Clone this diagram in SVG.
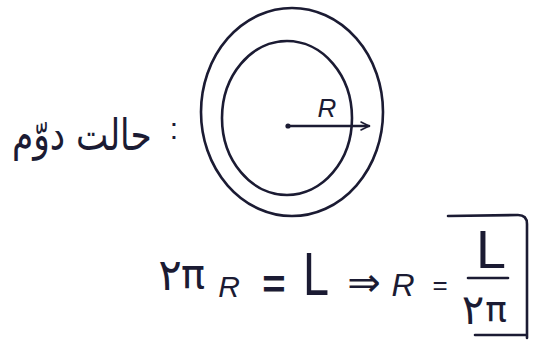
<svg xmlns="http://www.w3.org/2000/svg" width="536" height="342" viewBox="0 0 536 342">
<defs>
<style>
.ink{fill:none;stroke:#1b1b33;stroke-width:2.6;stroke-linecap:round;stroke-linejoin:round}
.t{fill:#1b1b33;font-family:"DejaVu Sans","Liberation Sans",sans-serif}
.l{fill:#1b1b33;font-family:"Liberation Sans",sans-serif}
.r{fill:#1b1b33;font-family:"Liberation Sans",sans-serif;font-style:italic}
</style>
<marker id="chev" viewBox="0 0 10 10" refX="9" refY="5" markerWidth="10" markerHeight="10" markerUnits="userSpaceOnUse" orient="auto">
<path d="M1,1 L9,5 L1,9" fill="none" stroke="#1b1b33" stroke-width="1.6" stroke-linecap="round"/>
</marker>
</defs>
<rect width="536" height="342" fill="#ffffff"/>
<g id="label">
<text class="t" transform="scale(0.78,1)" x="105" y="150" font-size="44" text-anchor="middle" direction="rtl">حالت دوّم</text>
<text class="l" x="174" y="139" font-size="30" text-anchor="middle">:</text>
</g>
<g id="outer-circle">
<ellipse class="ink" cx="292" cy="112" rx="91" ry="104"/>
</g>
<g id="inner-circle">
<ellipse class="ink" cx="287" cy="118" rx="65" ry="77"/>
</g>
<g id="center">
<circle cx="288" cy="126" r="2.6" fill="#1b1b33"/>
<text class="r" x="327" y="117" font-size="26" text-anchor="middle">R</text>
</g>
<g id="connectors">
<line class="ink" x1="288" y1="126" x2="369" y2="126" stroke-width="2" marker-end="url(#chev)"/>
</g>
<g id="formula">
<text class="t" x="170" y="290" font-size="44" text-anchor="middle">۲</text>
<text class="t" x="193" y="288" font-size="40" text-anchor="middle">π</text>
<text class="r" x="229" y="297" font-size="30" text-anchor="middle">R</text>
<text class="l" x="274" y="298" font-size="40" font-weight="bold" text-anchor="middle">=</text>
<text class="l" x="303" y="295" font-size="62" textLength="26" lengthAdjust="spacingAndGlyphs">L</text>
<text class="t" x="364" y="296" font-size="40" text-anchor="middle">⇒</text>
<text class="r" x="403" y="296" font-size="32" text-anchor="middle">R</text>
<text class="l" x="440" y="294" font-size="26" text-anchor="middle">=</text>
<text class="l" x="476" y="268" font-size="54" textLength="30" lengthAdjust="spacingAndGlyphs">L</text>
<line class="ink" x1="468" y1="278" x2="508" y2="278"/>
<text class="t" x="473" y="324" font-size="42" text-anchor="middle">۲</text>
<text class="t" x="496" y="322" font-size="36" text-anchor="middle">π</text>
<path class="ink" d="M448,216 L518,215 Q527,215 527,224 L527,338 M475,335 L527,335"/>
</g>
</svg>
